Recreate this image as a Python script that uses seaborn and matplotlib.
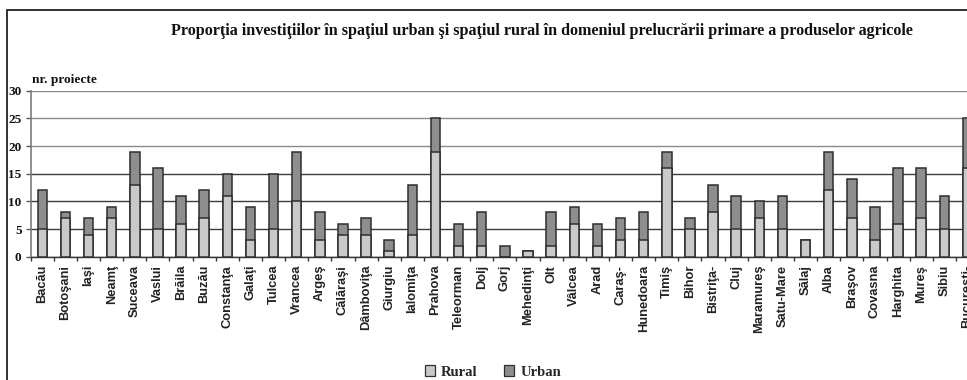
import matplotlib
matplotlib.use("Agg")
import matplotlib.pyplot as plt
from matplotlib.patches import Rectangle, Patch
import numpy as np
import pandas as pd
import seaborn as sns

# Number of projects per county, split by rural / urban location
judete = ["Bacău", "Botoşani", "Iaşi", "Neamţ", "Suceava", "Vaslui", "Brăila",
          "Buzău", "Constanţa", "Galaţi", "Tulcea", "Vrancea", "Argeş",
          "Călăraşi", "Dâmboviţa", "Giurgiu", "Ialomiţa", "Prahova",
          "Teleorman", "Dolj", "Gorj", "Mehedinţi", "Olt", "Vâlcea", "Arad",
          "Caraş-", "Hunedoara", "Timiş", "Bihor", "Bistriţa-", "Cluj",
          "Maramureş", "Satu-Mare", "Sălaj", "Alba", "Braşov", "Covasna",
          "Harghita", "Mureş", "Sibiu", "Bucureşti-"]
rural = [5, 7, 4, 7, 13, 5, 6, 7, 11, 3, 5, 10, 3,
         4, 4, 1, 4, 19, 2, 2, 0, 1, 2, 6, 2, 3, 3,
         16, 5, 8, 5, 7, 5, 3, 12, 7, 3, 6, 7, 5, 16]
urban = [7, 1, 3, 2, 6, 11, 5, 5, 4, 6, 10, 9, 5,
         2, 3, 2, 9, 6, 4, 6, 2, 0, 6, 3, 4, 4, 5,
         3, 2, 5, 6, 3, 6, 0, 7, 7, 6, 10, 9, 6, 9]
y_ticks = [0, 5, 10, 15, 20, 25, 30]

title = ("Proporţia investiţiilor în spaţiul urban şi spaţiul rural "
         "în domeniul prelucrării primare a produselor agricole")

df = pd.DataFrame({"judet": judete, "Rural": rural, "Urban": urban})
df["Total"] = df["Rural"] + df["Urban"]

sns.set_theme(style="white")
plt.rcParams["font.family"] = ["Liberation Serif", "DejaVu Serif"]

RURAL_C = "#c9c9c9"
URBAN_C = "#8e8e8e"
EDGE_C = "#2e2e2e"

W, H = 967, 380
fig = plt.figure(figsize=(W / 100, H / 100), dpi=100)
fig.patch.set_facecolor("white")

slot = 23.13
left_px, top_px, bottom_px = 30.7, 90.7, 256.7
right_px = left_px + slot * len(judete)
ax = fig.add_axes([left_px / W, 1 - bottom_px / H,
                   (right_px - left_px) / W, (bottom_px - top_px) / H])

# stacked bars: full height in urban colour, rural part drawn over it
bar_kw = dict(width=0.41, edgecolor=EDGE_C, linewidth=1.1, saturation=1,
              ax=ax, zorder=3)
sns.barplot(data=df, x="judet", y="Total", color=URBAN_C, **bar_kw)
sns.barplot(data=df, x="judet", y="Rural", color=RURAL_C, **bar_kw)

ax.set_xlim(-0.5, len(judete) - 0.5)
ax.set_ylim(0, 30)
ax.set_yticks(y_ticks)
ax.set_xlabel("")
ax.set_ylabel("")

# horizontal grid
ax.yaxis.grid(True, linewidth=1.0, zorder=0)
for val, gl in zip(y_ticks, ax.get_ygridlines()):
    gl.set_color("#8a8a8a" if val >= 20 else "#3c3c3c")
    gl.set_zorder(0)
ax.set_axisbelow(True)

for s in ("top", "right"):
    ax.spines[s].set_visible(False)
ax.spines["left"].set_color("#7a7a7a")
ax.spines["left"].set_linewidth(1.2)
ax.spines["bottom"].set_color("#333333")
ax.spines["bottom"].set_linewidth(1.0)

# category labels
ax.tick_params(axis="x", which="major", length=0, pad=5.8)
ax.set_xticks(range(len(judete)))
ax.set_xticklabels(judete, rotation=90, fontsize=9.3, fontweight="bold",
                   family=["Liberation Sans", "DejaVu Sans"],
                   color="#222222", va="top", ha="center")
ax.set_xticks(np.arange(-0.5, len(judete), 1.0), minor=True)
ax.tick_params(axis="x", which="minor", length=3.2, width=1.0,
               color="#333333", direction="out", bottom=True)

ax.tick_params(axis="y", length=3.6, width=1.0, color="#555555",
               direction="out", left=True, pad=3.0)
for lab in ax.get_yticklabels():
    lab.set_fontsize(9.5)
    lab.set_fontweight("bold")
    lab.set_color("#111111")

fig.text(542 / W, 1 - 31 / H, title, ha="center", va="center",
         fontsize=11.6, fontweight="bold", color="#111111")
fig.text(31.7 / W, 1 - 80 / H, "nr. proiecte", ha="left", va="center",
         fontsize=9.6, fontweight="bold", color="#111111")

handles = [Patch(facecolor=RURAL_C, edgecolor=EDGE_C, linewidth=0.9),
           Patch(facecolor=URBAN_C, edgecolor=EDGE_C, linewidth=0.9)]
fig.legend(handles, ["Rural", "Urban"], loc="center",
           bbox_to_anchor=(493 / W, 1 - 372 / H), ncol=2, frameon=False,
           prop={"weight": "bold", "size": 10.5},
           handlelength=0.7, handleheight=0.7, handletextpad=0.4,
           columnspacing=1.8)

# outer frame of the figure panel
fig.add_artist(Rectangle((7.3 / W, -0.1), 1.2, (1 - 10 / H) + 0.1,
                         transform=fig.transFigure, fill=False,
                         edgecolor="#222222", linewidth=1.3))

fig.savefig("out.png", dpi=100)
